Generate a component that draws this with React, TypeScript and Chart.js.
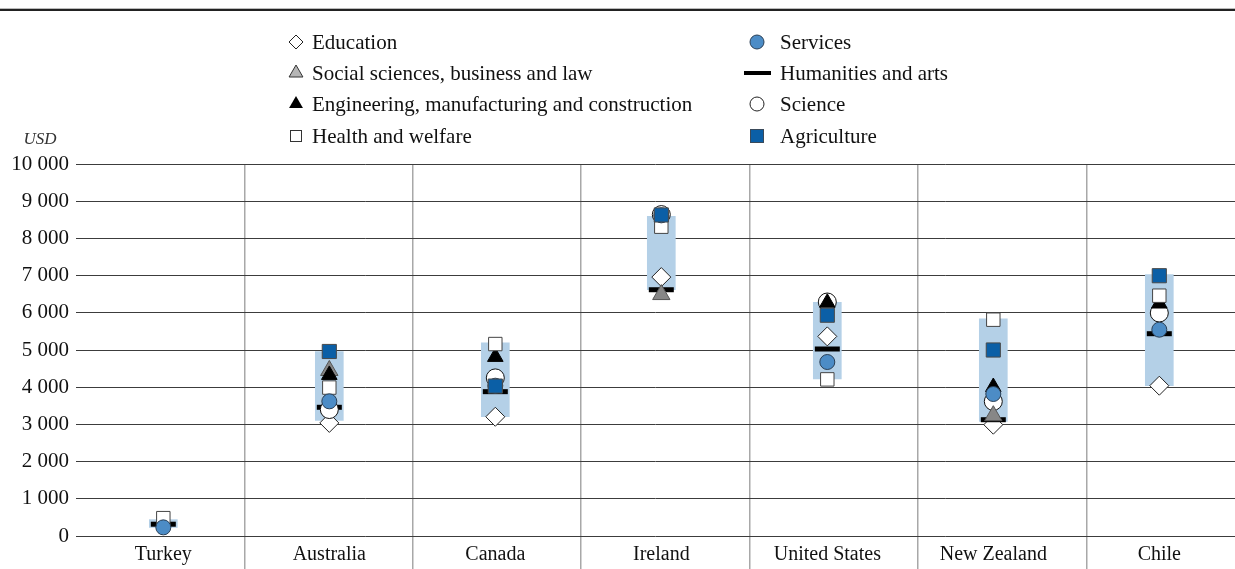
import React, { useEffect, useRef } from 'react';
import { Chart, registerables } from 'chart.js';

Chart.register(...registerables);

const categories = ['Turkey', 'Australia', 'Canada', 'Ireland', 'United States', 'New Zealand', 'Chile'];

const education: (number | null)[] = [null, 3040, 3205, 6960, 5366, 2992, 4040];
const socialSciences: (number | null)[] = [null, 4450, null, 6490, null, 3234, null];
const engineering: (number | null)[] = [null, 4330, 4815, null, 6270, 4005, 6250];
const health: (number | null)[] = [480, 3990, 5160, 8315, 4210, 5815, 6460];
const services: (number | null)[] = [232, 3620, 4040, 8620, 4677, 3817, 5546];
const humanities: (number | null)[] = [317, 3460, 3880, 6620, 5027, 3126, 5438];
const science: (number | null)[] = [null, 3400, 4250, 8640, 6290, 3618, 5995];
const agriculture: (number | null)[] = [null, 4960, 4030, 8630, 5935, 5000, 6997];

const rangeLow = [230, 3110, 3205, 6620, 4220, 3080, 4040];
const rangeHigh = [440, 4960, 5195, 8590, 6280, 5835, 7025];

const yMax = 10000;
const yStep = 1000;

const FONT = "'Liberation Serif', 'Times New Roman', serif";

const fmt = (v: number) => String(v).replace(/\B(?=(\d{3})+(?!\d))/g, ' ');

const pts = (arr: (number | null)[]) => categories.map((_, i) => ({ x: i, y: arr[i] }));

type LegendItem = { label: string; col: number; row: number; draw: (ctx: CanvasRenderingContext2D, x: number, y: number) => void };

const legendItems: LegendItem[] = [
  {
    label: 'Education', col: 0, row: 0,
    draw: (ctx, x, y) => {
      const r = 7;
      ctx.beginPath();
      ctx.moveTo(x - r, y); ctx.lineTo(x, y - r); ctx.lineTo(x + r, y); ctx.lineTo(x, y + r); ctx.closePath();
      ctx.fillStyle = '#fff'; ctx.fill(); ctx.strokeStyle = '#222'; ctx.lineWidth = 1; ctx.stroke();
    },
  },
  {
    label: 'Social sciences, business and law', col: 0, row: 1,
    draw: (ctx, x, y) => {
      const r = 8;
      ctx.beginPath();
      ctx.moveTo(x, y - r); ctx.lineTo(x + r * 0.866, y + r / 2); ctx.lineTo(x - r * 0.866, y + r / 2); ctx.closePath();
      ctx.fillStyle = '#b5b5b5'; ctx.fill(); ctx.strokeStyle = '#333'; ctx.lineWidth = 1; ctx.stroke();
    },
  },
  {
    label: 'Engineering, manufacturing and construction', col: 0, row: 2,
    draw: (ctx, x, y) => {
      const r = 8;
      ctx.beginPath();
      ctx.moveTo(x, y - r); ctx.lineTo(x + r * 0.866, y + r / 2); ctx.lineTo(x - r * 0.866, y + r / 2); ctx.closePath();
      ctx.fillStyle = '#000'; ctx.fill();
    },
  },
  {
    label: 'Health and welfare', col: 0, row: 3,
    draw: (ctx, x, y) => {
      ctx.fillStyle = '#fff'; ctx.fillRect(x - 6, y - 6, 12, 12);
      ctx.strokeStyle = '#333'; ctx.lineWidth = 1; ctx.strokeRect(x - 5.5, y - 5.5, 11, 11);
    },
  },
  {
    label: 'Services', col: 1, row: 0,
    draw: (ctx, x, y) => {
      ctx.beginPath(); ctx.arc(x, y, 7, 0, Math.PI * 2);
      ctx.fillStyle = '#4C8CC6'; ctx.fill(); ctx.strokeStyle = '#2a3f55'; ctx.lineWidth = 1; ctx.stroke();
    },
  },
  {
    label: 'Humanities and arts', col: 1, row: 1,
    draw: (ctx, x, y) => {
      ctx.fillStyle = '#000'; ctx.fillRect(x - 13, y - 2, 27, 4);
    },
  },
  {
    label: 'Science', col: 1, row: 2,
    draw: (ctx, x, y) => {
      ctx.beginPath(); ctx.arc(x, y, 7, 0, Math.PI * 2);
      ctx.fillStyle = '#fff'; ctx.fill(); ctx.strokeStyle = '#222'; ctx.lineWidth = 1; ctx.stroke();
    },
  },
  {
    label: 'Agriculture', col: 1, row: 3,
    draw: (ctx, x, y) => {
      ctx.fillStyle = '#0B5FA6'; ctx.fillRect(x - 6.5, y - 6.5, 13, 13);
      ctx.strokeStyle = '#3a4a5a'; ctx.lineWidth = 1; ctx.strokeRect(x - 6.5, y - 6.5, 13, 13);
    },
  },
];

const legendPlugin = {
  id: 'customLegend',
  afterDraw(chart: any) {
    const ctx: CanvasRenderingContext2D = chart.ctx;
    ctx.save();
    ctx.fillStyle = '#bbb';
    ctx.fillRect(0, 8, chart.width, 1);
    ctx.fillStyle = '#222';
    ctx.fillRect(0, 9, chart.width, 2);
    const markerX = [296, 757];
    const textX = [312, 780];
    const rowY = [42, 73, 104, 136];
    ctx.font = `21px ${FONT}`;
    ctx.textBaseline = 'middle';
    ctx.textAlign = 'left';
    legendItems.forEach((it) => {
      it.draw(ctx, markerX[it.col], rowY[it.row]);
      ctx.fillStyle = '#111';
      ctx.fillText(it.label, textX[it.col], rowY[it.row] + 1);
    });
    ctx.font = `italic 17px ${FONT}`;
    ctx.textAlign = 'center';
    ctx.fillStyle = '#333';
    ctx.fillText('USD', 40, 140);
    ctx.restore();
  },
};

export default function App() {
  const ref = useRef<HTMLCanvasElement | null>(null);

  useEffect(() => {
    document.body.style.margin = '0';
    document.body.style.overflow = 'hidden';
    const canvas = ref.current;
    if (!canvas) return;

    const markerBase = { type: 'scatter' as const, showLine: false };

    const chart = new Chart(canvas, {
      type: 'scatter',
      data: {
        datasets: [
          {
            type: 'bar',
            label: 'Range',
            data: categories.map((_, i) => ({ x: i, y: [rangeLow[i], rangeHigh[i]] })) as any,
            backgroundColor: '#B4D0E7',
            borderWidth: 0,
            barThickness: 28,
            order: 20,
          } as any,
          {
            ...markerBase, label: 'Education', data: pts(education), order: 7,
            pointStyle: 'rectRot', pointRadius: 9.5, backgroundColor: '#fff', borderColor: '#222', pointBorderWidth: 1,
          },
          {
            ...markerBase, label: 'Humanities and arts', data: pts(humanities), order: 6,
            pointStyle: 'line', pointRadius: 12.5, backgroundColor: '#000', borderColor: '#000', pointBorderWidth: 5,
          },
          {
            ...markerBase, label: 'Science', data: pts(science), order: 5,
            pointStyle: 'circle', pointRadius: 9, backgroundColor: '#fff', borderColor: '#111', pointBorderWidth: 1,
          },
          {
            ...markerBase, label: 'Social sciences, business and law', data: pts(socialSciences), order: 4,
            pointStyle: 'triangle', pointRadius: 10, backgroundColor: '#878787', borderColor: '#555', pointBorderWidth: 1,
          },
          {
            ...markerBase, label: 'Engineering, manufacturing and construction', data: pts(engineering), order: 3,
            pointStyle: 'triangle', pointRadius: 9, backgroundColor: '#000', borderColor: '#000', pointBorderWidth: 1,
          },
          {
            ...markerBase, label: 'Health and welfare', data: pts(health), order: 2,
            pointStyle: 'rect', pointRadius: 9.5, backgroundColor: '#fff', borderColor: '#444', pointBorderWidth: 1,
          },
          {
            ...markerBase, label: 'Services', data: pts(services), order: 1,
            pointStyle: 'circle', pointRadius: 7.5, backgroundColor: '#4C8CC6', borderColor: '#2a3f55', pointBorderWidth: 1,
          },
          {
            ...markerBase, label: 'Agriculture', data: pts(agriculture), order: 0,
            pointStyle: 'rect', pointRadius: 10, backgroundColor: '#0B5FA6', borderColor: '#4a4a4a', pointBorderWidth: 1,
          },
        ] as any,
      },
      options: {
        responsive: false,
        animation: false,
        devicePixelRatio: 1,
        events: [],
        layout: { autoPadding: false, padding: { top: 164, left: 0, right: 0, bottom: 0 } },
        plugins: {
          legend: { display: false },
          tooltip: { enabled: false },
          title: { display: false },
        },
        scales: {
          x: {
            type: 'linear',
            position: 'bottom',
            min: -0.526,
            max: 6.456,
            offset: false,
            weight: 1,
            grid: { display: false, offset: false, drawTicks: false },
            border: { display: false },
            afterBuildTicks: (scale: any) => {
              scale.ticks = categories.map((_, i) => ({ value: i }));
            },
            afterFit: (scale: any) => {
              scale.height = 33;
            },
            ticks: {
              autoSkip: false,
              maxRotation: 0,
              padding: 7,
              color: '#111',
              font: { family: FONT, size: 20 },
              callback: (v: any) => categories[v as number] ?? '',
            },
          },
          xg: {
            type: 'linear',
            position: 'bottom',
            min: 0,
            max: 6.882,
            offset: false,
            weight: 0,
            grid: { display: true, offset: false, color: '#a8a8a8', lineWidth: 1.5, drawTicks: true, tickLength: 33 },
            border: { display: false },
            afterBuildTicks: (scale: any) => {
              scale.ticks = categories.slice(1).map((_, i) => ({ value: i + 1 }));
            },
            afterFit: (scale: any) => {
              scale.height = 0;
            },
            ticks: { display: false },
          },
          y: {
            type: 'linear',
            min: 0,
            max: yMax,
            grid: { color: '#3c3c3c', lineWidth: 1, drawTicks: false },
            border: { display: false },
            afterFit: (scale: any) => {
              scale.width = 76;
            },
            ticks: {
              stepSize: yStep,
              padding: 7,
              color: '#111',
              font: { family: FONT, size: 21 },
              callback: (v: any) => fmt(Number(v)),
            },
          },
        } as any,
      },
      plugins: [legendPlugin],
    });

    return () => chart.destroy();
  }, []);

  return (
    <div style={{ width: 1235, height: 569 }}>
      <canvas ref={ref} width={1235} height={569} style={{ display: 'block', width: 1235, height: 569 }} />
    </div>
  );
}
